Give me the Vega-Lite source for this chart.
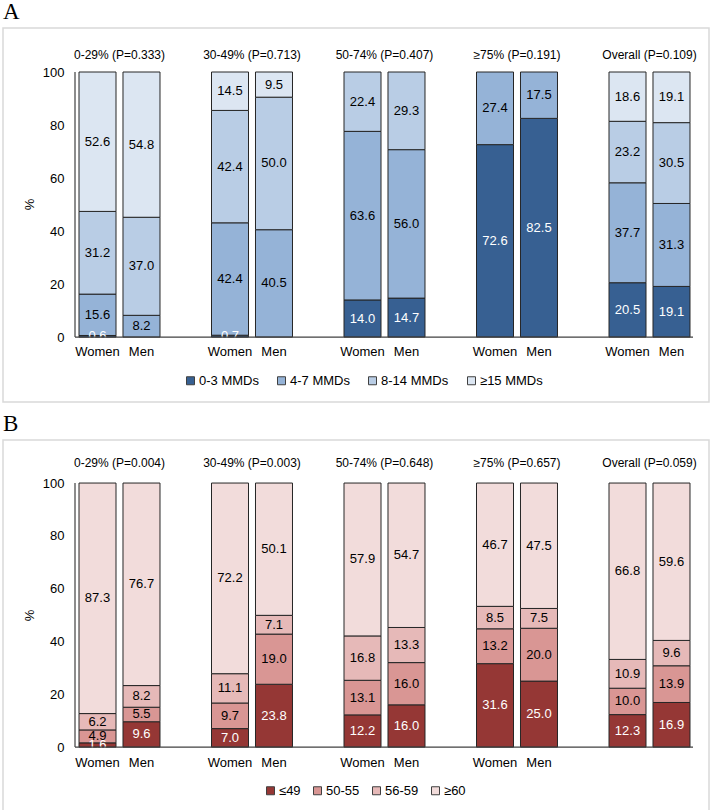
{
  "$schema": "https://vega.github.io/schema/vega-lite/v6.json",
  "padding": {"left": 2, "top": 0, "right": 2, "bottom": 0},
  "spacing": 9,
  "config": {
    "font": "Liberation Sans",
    "view": {"stroke": "#d9d9d9", "strokeWidth": 1.5},
    "title": {"anchor": "start", "font": "Liberation Serif", "fontSize": 23, "fontWeight": "normal", "offset": 4, "color": "#000000"},
    "text": {"font": "Liberation Sans"}
  },
  "resolve": {
    "scale": {"color": "independent", "x": "independent", "y": "independent", "xOffset": "independent"},
    "legend": {"color": "independent"}
  },
  "datasets": {
    "a": [
      {"g": "0-29%", "s": "Women", "c": "0-3 MMDs", "k": 1, "v": 0.6},
      {"g": "0-29%", "s": "Women", "c": "4-7 MMDs", "k": 2, "v": 15.6},
      {"g": "0-29%", "s": "Women", "c": "8-14 MMDs", "k": 3, "v": 31.2},
      {"g": "0-29%", "s": "Women", "c": "≥15 MMDs", "k": 4, "v": 52.6},
      {"g": "0-29%", "s": "Men", "c": "4-7 MMDs", "k": 2, "v": 8.2},
      {"g": "0-29%", "s": "Men", "c": "8-14 MMDs", "k": 3, "v": 37.0},
      {"g": "0-29%", "s": "Men", "c": "≥15 MMDs", "k": 4, "v": 54.8},
      {"g": "30-49%", "s": "Women", "c": "0-3 MMDs", "k": 1, "v": 0.7},
      {"g": "30-49%", "s": "Women", "c": "4-7 MMDs", "k": 2, "v": 42.4},
      {"g": "30-49%", "s": "Women", "c": "8-14 MMDs", "k": 3, "v": 42.4},
      {"g": "30-49%", "s": "Women", "c": "≥15 MMDs", "k": 4, "v": 14.5},
      {"g": "30-49%", "s": "Men", "c": "4-7 MMDs", "k": 2, "v": 40.5},
      {"g": "30-49%", "s": "Men", "c": "8-14 MMDs", "k": 3, "v": 50.0},
      {"g": "30-49%", "s": "Men", "c": "≥15 MMDs", "k": 4, "v": 9.5},
      {"g": "50-74%", "s": "Women", "c": "0-3 MMDs", "k": 1, "v": 14.0},
      {"g": "50-74%", "s": "Women", "c": "4-7 MMDs", "k": 2, "v": 63.6},
      {"g": "50-74%", "s": "Women", "c": "8-14 MMDs", "k": 3, "v": 22.4},
      {"g": "50-74%", "s": "Men", "c": "0-3 MMDs", "k": 1, "v": 14.7},
      {"g": "50-74%", "s": "Men", "c": "4-7 MMDs", "k": 2, "v": 56.0},
      {"g": "50-74%", "s": "Men", "c": "8-14 MMDs", "k": 3, "v": 29.3},
      {"g": "≥75%", "s": "Women", "c": "0-3 MMDs", "k": 1, "v": 72.6},
      {"g": "≥75%", "s": "Women", "c": "4-7 MMDs", "k": 2, "v": 27.4},
      {"g": "≥75%", "s": "Men", "c": "0-3 MMDs", "k": 1, "v": 82.5},
      {"g": "≥75%", "s": "Men", "c": "4-7 MMDs", "k": 2, "v": 17.5},
      {"g": "Overall", "s": "Women", "c": "0-3 MMDs", "k": 1, "v": 20.5},
      {"g": "Overall", "s": "Women", "c": "4-7 MMDs", "k": 2, "v": 37.7},
      {"g": "Overall", "s": "Women", "c": "8-14 MMDs", "k": 3, "v": 23.2},
      {"g": "Overall", "s": "Women", "c": "≥15 MMDs", "k": 4, "v": 18.6},
      {"g": "Overall", "s": "Men", "c": "0-3 MMDs", "k": 1, "v": 19.1},
      {"g": "Overall", "s": "Men", "c": "4-7 MMDs", "k": 2, "v": 31.3},
      {"g": "Overall", "s": "Men", "c": "8-14 MMDs", "k": 3, "v": 30.5},
      {"g": "Overall", "s": "Men", "c": "≥15 MMDs", "k": 4, "v": 19.1}
    ],
    "at": [
      {"g": "0-29%", "t": "0-29% (P=0.333)"},
      {"g": "30-49%", "t": "30-49% (P=0.713)"},
      {"g": "50-74%", "t": "50-74% (P=0.407)"},
      {"g": "≥75%", "t": "≥75% (P=0.191)"},
      {"g": "Overall", "t": "Overall (P=0.109)"}
    ],
    "al": [
      {"g": "0-29%", "s": "Women"}, {"g": "0-29%", "s": "Men"},
      {"g": "30-49%", "s": "Women"}, {"g": "30-49%", "s": "Men"},
      {"g": "50-74%", "s": "Women"}, {"g": "50-74%", "s": "Men"},
      {"g": "≥75%", "s": "Women"}, {"g": "≥75%", "s": "Men"},
      {"g": "Overall", "s": "Women"}, {"g": "Overall", "s": "Men"}
    ],
    "b": [
      {"g": "0-29%", "s": "Women", "c": "≤49", "k": 1, "v": 1.6},
      {"g": "0-29%", "s": "Women", "c": "50-55", "k": 2, "v": 4.9},
      {"g": "0-29%", "s": "Women", "c": "56-59", "k": 3, "v": 6.2},
      {"g": "0-29%", "s": "Women", "c": "≥60", "k": 4, "v": 87.3},
      {"g": "0-29%", "s": "Men", "c": "≤49", "k": 1, "v": 9.6},
      {"g": "0-29%", "s": "Men", "c": "50-55", "k": 2, "v": 5.5},
      {"g": "0-29%", "s": "Men", "c": "56-59", "k": 3, "v": 8.2},
      {"g": "0-29%", "s": "Men", "c": "≥60", "k": 4, "v": 76.7},
      {"g": "30-49%", "s": "Women", "c": "≤49", "k": 1, "v": 7.0},
      {"g": "30-49%", "s": "Women", "c": "50-55", "k": 2, "v": 9.7},
      {"g": "30-49%", "s": "Women", "c": "56-59", "k": 3, "v": 11.1},
      {"g": "30-49%", "s": "Women", "c": "≥60", "k": 4, "v": 72.2},
      {"g": "30-49%", "s": "Men", "c": "≤49", "k": 1, "v": 23.8},
      {"g": "30-49%", "s": "Men", "c": "50-55", "k": 2, "v": 19.0},
      {"g": "30-49%", "s": "Men", "c": "56-59", "k": 3, "v": 7.1},
      {"g": "30-49%", "s": "Men", "c": "≥60", "k": 4, "v": 50.1},
      {"g": "50-74%", "s": "Women", "c": "≤49", "k": 1, "v": 12.2},
      {"g": "50-74%", "s": "Women", "c": "50-55", "k": 2, "v": 13.1},
      {"g": "50-74%", "s": "Women", "c": "56-59", "k": 3, "v": 16.8},
      {"g": "50-74%", "s": "Women", "c": "≥60", "k": 4, "v": 57.9},
      {"g": "50-74%", "s": "Men", "c": "≤49", "k": 1, "v": 16.0},
      {"g": "50-74%", "s": "Men", "c": "50-55", "k": 2, "v": 16.0},
      {"g": "50-74%", "s": "Men", "c": "56-59", "k": 3, "v": 13.3},
      {"g": "50-74%", "s": "Men", "c": "≥60", "k": 4, "v": 54.7},
      {"g": "≥75%", "s": "Women", "c": "≤49", "k": 1, "v": 31.6},
      {"g": "≥75%", "s": "Women", "c": "50-55", "k": 2, "v": 13.2},
      {"g": "≥75%", "s": "Women", "c": "56-59", "k": 3, "v": 8.5},
      {"g": "≥75%", "s": "Women", "c": "≥60", "k": 4, "v": 46.7},
      {"g": "≥75%", "s": "Men", "c": "≤49", "k": 1, "v": 25.0},
      {"g": "≥75%", "s": "Men", "c": "50-55", "k": 2, "v": 20.0},
      {"g": "≥75%", "s": "Men", "c": "56-59", "k": 3, "v": 7.5},
      {"g": "≥75%", "s": "Men", "c": "≥60", "k": 4, "v": 47.5},
      {"g": "Overall", "s": "Women", "c": "≤49", "k": 1, "v": 12.3},
      {"g": "Overall", "s": "Women", "c": "50-55", "k": 2, "v": 10.0},
      {"g": "Overall", "s": "Women", "c": "56-59", "k": 3, "v": 10.9},
      {"g": "Overall", "s": "Women", "c": "≥60", "k": 4, "v": 66.8},
      {"g": "Overall", "s": "Men", "c": "≤49", "k": 1, "v": 16.9},
      {"g": "Overall", "s": "Men", "c": "50-55", "k": 2, "v": 13.9},
      {"g": "Overall", "s": "Men", "c": "56-59", "k": 3, "v": 9.6},
      {"g": "Overall", "s": "Men", "c": "≥60", "k": 4, "v": 59.6}
    ],
    "bt": [
      {"g": "0-29%", "t": "0-29% (P=0.004)"},
      {"g": "30-49%", "t": "30-49% (P=0.003)"},
      {"g": "50-74%", "t": "50-74% (P=0.648)"},
      {"g": "≥75%", "t": "≥75% (P=0.657)"},
      {"g": "Overall", "t": "Overall (P=0.059)"}
    ],
    "bl": [
      {"g": "0-29%", "s": "Women"}, {"g": "0-29%", "s": "Men"},
      {"g": "30-49%", "s": "Women"}, {"g": "30-49%", "s": "Men"},
      {"g": "50-74%", "s": "Women"}, {"g": "50-74%", "s": "Men"},
      {"g": "≥75%", "s": "Women"}, {"g": "≥75%", "s": "Men"}
    ]
  },
  "vconcat": [
    {
      "title": {"text": "A"},
      "width": 706,
      "height": 374,
      "encoding": {
        "x": {"field": "g", "type": "nominal", "axis": null,
              "scale": {"domain": ["0-29%", "30-49%", "50-74%", "≥75%", "Overall"], "paddingInner": 0.3887, "paddingOuter": 0.3585, "align": 0.8}}
      },
      "layer": [
        {
          "data": {"name": "a"},
          "mark": {"type": "bar", "stroke": "#262626", "strokeWidth": 1},
          "encoding": {
            "xOffset": {"field": "s", "type": "nominal", "scale": {"domain": ["Women", "Men"], "paddingInner": 0.159, "paddingOuter": 0}},
            "y": {"field": "v", "type": "quantitative", "stack": "zero",
                  "scale": {"domain": [-24.5, 116.6], "nice": false, "zero": false},
                  "axis": {"values": [0, 20, 40, 60, 80, 100], "domain": false, "ticks": false, "tickSize": 0, "grid": false,
                           "offset": -72, "labelPadding": 11, "labelFontSize": 13, "labelColor": "#000000",
                           "title": "%", "titleFontSize": 13, "titleFontWeight": "normal", "titleColor": "#000000", "titlePadding": 6, "titleY": 176}},
            "color": {"field": "c", "type": "nominal",
                      "scale": {"domain": ["0-3 MMDs", "4-7 MMDs", "8-14 MMDs", "≥15 MMDs"], "range": ["#376092", "#95b3d7", "#b9cde5", "#dce6f2"]},
                      "legend": {"orient": "none", "legendX": 181, "legendY": 346, "direction": "horizontal", "columns": 4, "title": null,
                                 "symbolType": "square", "symbolSize": 64, "symbolStrokeColor": "#404040", "symbolStrokeWidth": 1,
                                 "labelFontSize": 13, "labelColor": "#000000", "labelOffset": 2, "columnPadding": 16}},
            "order": {"field": "k", "type": "quantitative"}
          }
        },
        {
          "data": {"name": "a"},
          "mark": {"type": "text", "fontSize": 13},
          "encoding": {
            "xOffset": {"field": "s", "type": "nominal", "scale": {"domain": ["Women", "Men"], "paddingInner": 0.159, "paddingOuter": 0}},
            "y": {"field": "v", "type": "quantitative", "stack": "zero", "bandPosition": 0.5},
            "detail": {"field": "c", "type": "nominal"},
            "order": {"field": "k", "type": "quantitative"},
            "text": {"field": "v", "type": "quantitative", "format": ".1f"},
            "color": {"condition": {"test": "datum.k === 1", "value": "#ffffff"}, "value": "#000000"}
          }
        },
        {
          "data": {"name": "at"},
          "mark": {"type": "text", "fontSize": 12, "dy": -17},
          "encoding": {
            "y": {"datum": 100, "type": "quantitative"},
            "text": {"field": "t", "type": "nominal"},
            "color": {"value": "#000000"}
          }
        },
        {
          "data": {"name": "al"},
          "mark": {"type": "text", "fontSize": 13, "dy": 15},
          "encoding": {
            "xOffset": {"field": "s", "type": "nominal", "scale": {"domain": ["Women", "Men"], "paddingInner": 0.159, "paddingOuter": 0}},
            "y": {"datum": 0, "type": "quantitative"},
            "text": {"field": "s", "type": "nominal"},
            "color": {"value": "#000000"}
          }
        },
        {
          "data": {"values": [{}]},
          "mark": {"type": "rule", "color": "#404040", "strokeWidth": 1.2, "xOffset": -4},
          "encoding": {
            "x": {"datum": "0-29%", "type": "nominal", "bandPosition": 0},
            "y": {"datum": 0, "type": "quantitative"},
            "y2": {"datum": 100}
          }
        },
        {
          "data": {"values": [{}]},
          "mark": {"type": "rule", "color": "#404040", "strokeWidth": 1.2, "xOffset": -4, "x2Offset": 3},
          "encoding": {
            "x": {"datum": "0-29%", "type": "nominal", "bandPosition": 0},
            "x2": {"datum": "Overall", "bandPosition": 1},
            "y": {"datum": 0, "type": "quantitative"}
          }
        }
      ]
    },
    {
      "title": {"text": "B"},
      "width": 706,
      "height": 371,
      "encoding": {
        "x": {"field": "g", "type": "nominal", "axis": null,
              "scale": {"domain": ["0-29%", "30-49%", "50-74%", "≥75%", "Overall"], "paddingInner": 0.3887, "paddingOuter": 0.3585, "align": 0.8}}
      },
      "layer": [
        {
          "data": {"name": "b"},
          "mark": {"type": "bar", "stroke": "#262626", "strokeWidth": 1},
          "encoding": {
            "xOffset": {"field": "s", "type": "nominal", "scale": {"domain": ["Women", "Men"], "paddingInner": 0.159, "paddingOuter": 0}},
            "y": {"field": "v", "type": "quantitative", "stack": "zero",
                  "scale": {"domain": [-24.2, 116.3], "nice": false, "zero": false},
                  "axis": {"values": [0, 20, 40, 60, 80, 100], "domain": false, "ticks": false, "tickSize": 0, "grid": false,
                           "offset": -72, "labelPadding": 11, "labelFontSize": 13, "labelColor": "#000000",
                           "title": "%", "titleFontSize": 13, "titleFontWeight": "normal", "titleColor": "#000000", "titlePadding": 6, "titleY": 175}},
            "color": {"field": "c", "type": "nominal",
                      "scale": {"domain": ["≤49", "50-55", "56-59", "≥60"], "range": ["#953735", "#d99694", "#e6b9b8", "#f2dcdb"]},
                      "legend": {"orient": "none", "legendX": 261, "legendY": 344, "direction": "horizontal", "columns": 4, "title": null,
                                 "symbolType": "square", "symbolSize": 64, "symbolStrokeColor": "#404040", "symbolStrokeWidth": 1,
                                 "labelFontSize": 13, "labelColor": "#000000", "labelOffset": 2, "columnPadding": 10}},
            "order": {"field": "k", "type": "quantitative"}
          }
        },
        {
          "data": {"name": "b"},
          "mark": {"type": "text", "fontSize": 13},
          "encoding": {
            "xOffset": {"field": "s", "type": "nominal", "scale": {"domain": ["Women", "Men"], "paddingInner": 0.159, "paddingOuter": 0}},
            "y": {"field": "v", "type": "quantitative", "stack": "zero", "bandPosition": 0.5},
            "detail": {"field": "c", "type": "nominal"},
            "order": {"field": "k", "type": "quantitative"},
            "text": {"field": "v", "type": "quantitative", "format": ".1f"},
            "color": {"condition": {"test": "datum.k === 1", "value": "#ffffff"}, "value": "#000000"}
          }
        },
        {
          "data": {"name": "bt"},
          "mark": {"type": "text", "fontSize": 12, "dy": -20},
          "encoding": {
            "y": {"datum": 100, "type": "quantitative"},
            "text": {"field": "t", "type": "nominal"},
            "color": {"value": "#000000"}
          }
        },
        {
          "data": {"name": "bl"},
          "mark": {"type": "text", "fontSize": 13, "dy": 16},
          "encoding": {
            "xOffset": {"field": "s", "type": "nominal", "scale": {"domain": ["Women", "Men"], "paddingInner": 0.159, "paddingOuter": 0}},
            "y": {"datum": 0, "type": "quantitative"},
            "text": {"field": "s", "type": "nominal"},
            "color": {"value": "#000000"}
          }
        },
        {
          "data": {"values": [{}]},
          "mark": {"type": "rule", "color": "#404040", "strokeWidth": 1.2, "xOffset": -4},
          "encoding": {
            "x": {"datum": "0-29%", "type": "nominal", "bandPosition": 0},
            "y": {"datum": 0, "type": "quantitative"},
            "y2": {"datum": 100}
          }
        },
        {
          "data": {"values": [{}]},
          "mark": {"type": "rule", "color": "#404040", "strokeWidth": 1.2, "xOffset": -4, "x2Offset": 3},
          "encoding": {
            "x": {"datum": "0-29%", "type": "nominal", "bandPosition": 0},
            "x2": {"datum": "Overall", "bandPosition": 1},
            "y": {"datum": 0, "type": "quantitative"}
          }
        }
      ]
    }
  ]
}
